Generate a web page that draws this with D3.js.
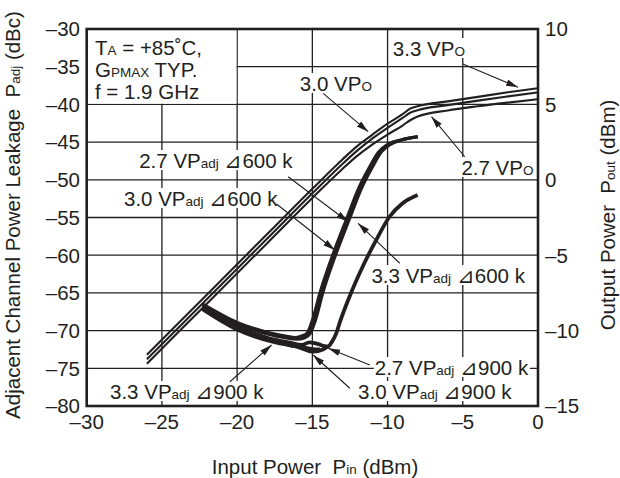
<!DOCTYPE html>
<html><head><meta charset="utf-8">
<script src="https://cdn.jsdelivr.net/npm/d3@7"></script>
<style>
html,body{margin:0;padding:0;background:#fff;}
svg{display:block;font-family:"Liberation Sans",Arial,Helvetica,sans-serif;}
text{white-space:pre;}
</style></head>
<body><svg id="c" width="620" height="478"></svg>
<script>
// ---------- data ----------
const xTicks = [-30,-25,-20,-15,-10,-5,0];
const yLeftTicks = [-80,-75,-70,-65,-60,-55,-50,-45,-40,-35,-30];
const yRightTicks = [-15,-10,-5,0,5,10];

// Output power (right axis) vs input power
const pinPout = [-26,-22,-18,-15,-13,-12,-11,-10,-9,-8.5,-8,-6,-4,-2,0];
const pout33 = [-11.6,-7.6,-3.6,-0.6,1.35,2.25,3.0,3.72,4.35,4.72,4.88,5.2,5.5,5.8,6.07];
const pout30 = [-11.9,-7.9,-3.9,-0.9,1.05,1.95,2.75,3.45,4.1,4.45,4.62,4.95,5.25,5.53,5.8];
const pout27 = [-12.2,-8.2,-4.2,-1.2,0.72,1.6,2.35,3.0,3.6,3.95,4.2,4.6,4.88,5.12,5.34];

// Adjacent channel leakage (left axis)
const pin600a = [-22.3,-20,-18,-16.8,-16.1,-15.7,-15.35,-15.0,-14.5,-13.6,-12.75,-11.9,-11.2,-10.6,-10.0,-9.1,-8.0];
const padj600_27 = [-66.45,-68.9,-70.2,-70.7,-70.9,-70.7,-70.3,-68.6,-65.0,-59.7,-55.3,-51.0,-48.3,-46.3,-45.3,-44.7,-44.3];
const pin600b = [-22.3,-20,-18,-16.8,-16.0,-15.6,-15.25,-14.9,-14.4,-13.5,-12.65,-11.8,-11.1,-10.5,-9.9,-9.05,-8.0];
const padj600_30 = [-66.6,-69.0,-70.35,-70.85,-71.05,-70.85,-70.4,-68.7,-65.0,-59.7,-55.3,-51.0,-48.3,-46.3,-45.3,-44.7,-44.3];
const pin600c = [-22.3,-20,-18,-16.8,-16.0,-15.5,-15.15,-14.8,-14.3,-13.4,-12.55,-11.7,-11.0,-10.4,-9.8,-9.0,-8.0];
const padj600_33 = [-66.75,-69.1,-70.45,-70.95,-71.15,-70.95,-70.4,-68.7,-65.0,-59.7,-55.3,-51.0,-48.3,-46.3,-45.3,-44.7,-44.3];

const pin900_27 = [-22.3,-20,-18,-16.5,-15.7,-15.2,-14.6,-14.2,-13.97,-13.7,-13.4,-13.19,-12.53,-11.65,-10.76,-9.87,-9.0,-8.0];
const padj900_27 = [-66.9,-69.5,-70.95,-71.6,-71.9,-71.55,-71.8,-72.05,-72.1,-71.5,-70.3,-69.0,-65.5,-61.5,-58.0,-54.9,-53.1,-52.0];
const pin900_30 = [-22.3,-20,-18,-16.5,-15.7,-14.95,-14.3,-13.97];
const padj900_30 = [-67.05,-69.7,-71.15,-71.85,-72.35,-72.8,-72.5,-72.1];
const pin900_33 = [-22.3,-20,-17.7,-16.5,-15.7,-15.0,-14.5];
const padj900_33 = [-67.15,-69.85,-71.45,-71.95,-72.2,-72.45,-72.5];

// ---------- layout ----------
const FS = 20.5, FSS = 13.5;
const svg = d3.select('#c');
const x = d3.scaleLinear([-30,0],[86.7,538]);
const yL = d3.scaleLinear([-80,-30],[406,29]);
const yR = d3.scaleLinear([-15,10],[406,29]);
const ink = '#231f20';

// grid
const grid = svg.append('g').attr('stroke', ink).attr('stroke-width', 1.3);
grid.selectAll('line.v').data(xTicks.slice(1,-1)).join('line')
  .attr('x1', d=>x(d)).attr('x2', d=>x(d)).attr('y1', yL(-30)).attr('y2', yL(-80));
grid.selectAll('line.h').data(yLeftTicks.slice(1,-1)).join('line')
  .attr('x1', x(-30)).attr('x2', x(0)).attr('y1', d=>yL(d)).attr('y2', d=>yL(d));
// blank cell behind condition box
svg.append('rect').attr('x', x(-30)).attr('y', yL(-30))
  .attr('width', x(-20)-x(-30)-0.7).attr('height', yL(-40)-yL(-30)-0.7).attr('fill','#fff');

// curves
const linePout = (ys) => d3.line().x((d,i)=>x(pinPout[i])).y(d=>yR(d)).curve(d3.curveMonotoneX)(ys);
const lineAdj = (xs, ys) => d3.line().x((d,i)=>x(xs[i])).y(d=>yL(d)).curve(d3.curveMonotoneX)(ys);
const curves = svg.append('g').attr('fill','none').attr('stroke', ink).attr('stroke-linecap','butt').attr('stroke-linejoin','round');
[pout27, pout30, pout33].forEach(s => curves.append('path').attr('d', linePout(s)).attr('stroke-width', 2.1));
[[pin900_33,padj900_33],[pin900_30,padj900_30],[pin900_27,padj900_27]].forEach(([a,b]) =>
  curves.append('path').attr('d', lineAdj(a,b)).attr('stroke-width', 3.8));
[[pin600c,padj600_33],[pin600b,padj600_30],[pin600a,padj600_27]].forEach(([a,b]) =>
  curves.append('path').attr('d', lineAdj(a,b)).attr('stroke-width', 3.0));

// frame
svg.append('rect').attr('x', x(-30)).attr('y', yL(-30)).attr('width', x(0)-x(-30)).attr('height', yL(-80)-yL(-30))
  .attr('fill','none').attr('stroke', ink).attr('stroke-width', 2.6);

// tick labels
const tl = svg.append('g').attr('fill', ink).attr('font-size', FS);
tl.selectAll('text.l').data(yLeftTicks).join('text').attr('x', 80).attr('y', d=>yL(d)).attr('dy','0.36em')
  .attr('text-anchor','end').text(d=> d<0 ? '\u2013'+Math.abs(d) : d);
tl.selectAll('text.r').data(yRightTicks).join('text').attr('x', 545).attr('y', d=>yR(d)).attr('dy','0.36em')
  .attr('text-anchor','start').text(d=> d<0 ? '\u2013'+Math.abs(d) : d);
tl.selectAll('text.b').data(xTicks).join('text').attr('x', d=>x(d)).attr('y', 429)
  .attr('text-anchor','middle').text(d=> d<0 ? '\u2013'+Math.abs(d) : d);

function rich(g, px, py, parts, opts={}) {
  const t = g.append('text').attr('x', px).attr('y', py).attr('fill', ink).attr('font-size', FS);
  if (opts.anchor) t.attr('text-anchor', opts.anchor);
  if (opts.rotate) t.attr('transform', `rotate(${opts.rotate},${px},${py})`);
  parts.forEach(p => {
    const s = t.append('tspan').text(p[0]);
    if (p[1]) s.attr('font-size', FSS);
  });
  return t;
}

// axis titles
rich(svg, 315, 473.5, [['Input Power  P'],['in',1],[' (dBm)']], {anchor:'middle'});
rich(svg, 20, 215, [['Adjacent Channel Power Leakage  P'],['adj',1],[' (dBc)']], {anchor:'middle', rotate:-90});
rich(svg, 615, 215, [['Output Power  P'],['out',1],[' (dBm)']], {anchor:'middle', rotate:-90});

// condition box text
const cond = svg.append('g');
rich(cond, x(-29.45), yL(-33.45), [['T'],['A',1],[' = +85\u02DAC,']]);
rich(cond, x(-29.45), yL(-36.37), [['G'],['PMAX',1],[' TYP.']]);
rich(cond, x(-29.45), yL(-39.35), [['f = 1.9 GHz']]);

// annotations: [parts, text start (Pin, Padj), arrow from, arrow to]
const annotations = [
  [[['3.3 VP'],['O',1]], [-9.65,-33.58], [-4.99,-34.64], [-1.33,-37.73]],
  [[['3.0 VP'],['O',1]], [-15.83,-38.22], [-14.28,-38.53], [-11.29,-43.62]],
  [[['2.7 VP'],['O',1]], [-5.09,-49.36], [-4.87,-46.94], [-7.08,-41.63]],
  [[['2.7 VP'],['adj',1],[' \u22BF600 k']], [-26.51,-48.44], [-16.61,-49.59], [-12.62,-55.56]],
  [[['3.0 VP'],['adj',1],[' \u22BF600 k']], [-27.52,-53.47], [-17.38,-53.21], [-13.51,-59.31]],
  [[['3.3 VP'],['adj',1],[' \u22BF600 k']], [-11.07,-63.69], [-9.19,-61.07], [-11.96,-55.77]],
  [[['2.7 VP'],['adj',1],[' \u22BF900 k']], [-10.85,-75.89], [-11.18,-74.56], [-13.95,-72.35]],
  [[['3.0 VP'],['adj',1],[' \u22BF900 k']], [-11.96,-79.07], [-12.51,-77.65], [-14.95,-73.24]],
  [[['3.3 VP'],['adj',1],[' \u22BF900 k']], [-28.45,-79.07], [-20.48,-76.78], [-17.71,-71.91]],
];

svg.append('defs').append('marker').attr('id','ah').attr('markerUnits','userSpaceOnUse')
  .attr('markerWidth',13).attr('markerHeight',8).attr('refX',12).attr('refY',3.3).attr('orient','auto')
  .append('path').attr('d','M0,0 L12,3.3 L0,6.6 Z').attr('fill', ink);

const ann = svg.append('g');
annotations.forEach(([parts, p, a, b]) => {
  const g = ann.append('g');
  const bg = g.append('rect').attr('fill','#fff');
  const t = rich(g, x(p[0]), yL(p[1]), parts);
  const bb = t.node().getBBox();
  bg.attr('x', bb.x-1).attr('y', bb.y+1).attr('width', bb.width+2).attr('height', bb.height-3);
  g.append('line').attr('x1', x(a[0])).attr('y1', yL(a[1])).attr('x2', x(b[0])).attr('y2', yL(b[1]))
    .attr('stroke', ink).attr('stroke-width', 1.1).attr('marker-end','url(#ah)');
});
</script></body></html>
